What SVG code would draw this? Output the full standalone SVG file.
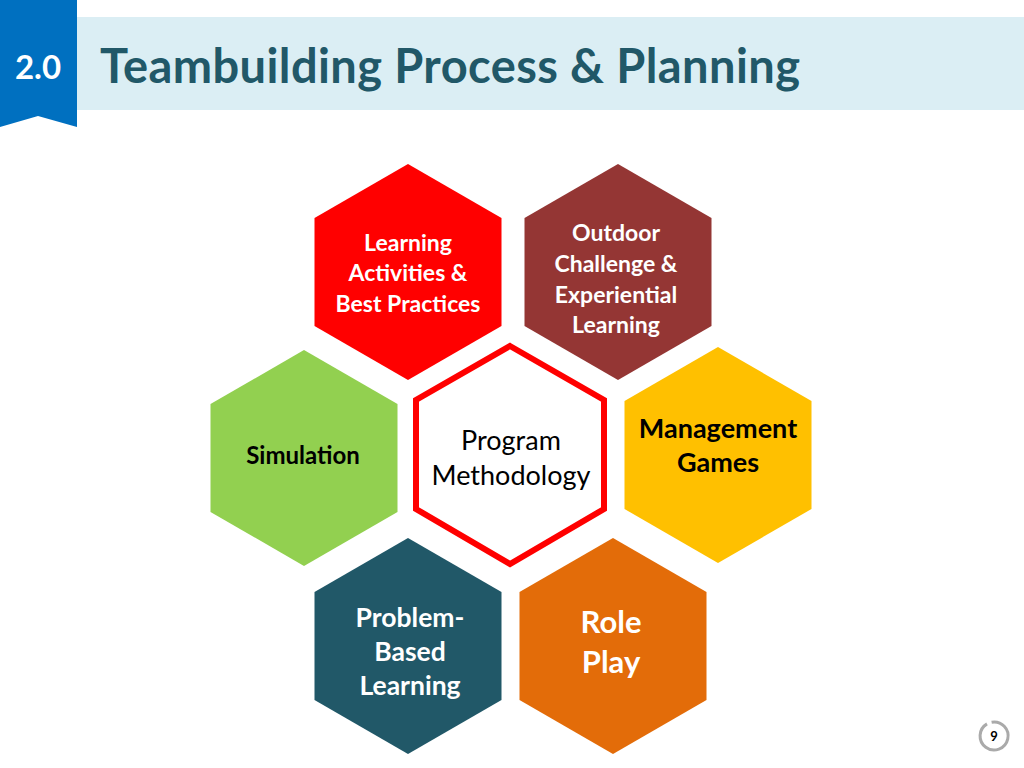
<svg xmlns="http://www.w3.org/2000/svg" width="1024" height="768" viewBox="0 0 1024 768">
<defs>
<style>
.t{font-family:Lato,"Open Sans","Liberation Sans",sans-serif;font-weight:bold;text-anchor:middle}
.w{fill:#ffffff}
.k{fill:#000000}
</style>
<polygon id="hx" points="0,-108 93.5,-54 93.5,54 0,108 -93.5,54 -93.5,-54"/>
</defs>
<rect width="1024" height="768" fill="#ffffff"/>
<g id="header">
<rect x="77" y="17" width="947" height="93" fill="#DBEEF4"/>
<polygon points="0,0 77,0 77,127 38,116 0,127" fill="#0070C0"/>
<text x="38" y="79" class="t w" style="font-size:33px">2.0</text>
<text x="100" y="83" class="t" style="font-size:47px;text-anchor:start;fill:#215868" textLength="700" lengthAdjust="spacing">Teambuilding Process &amp; Planning</text>
</g>
<g id="connectors"></g>
<g id="node-learning">
<use href="#hx" x="408" y="272" fill="#FF0000"/>
<text class="t w" style="font-size:23px"><tspan x="408" y="251">Learning</tspan><tspan x="408" y="281">Activities &amp;</tspan><tspan x="408" y="312">Best Practices</tspan></text>
</g>
<g id="node-outdoor">
<use href="#hx" x="618" y="272" fill="#943634"/>
<text class="t w" style="font-size:23px"><tspan x="616" y="241">Outdoor</tspan><tspan x="616" y="272">Challenge &amp;</tspan><tspan x="616" y="303">Experiential</tspan><tspan x="616" y="333">Learning</tspan></text>
</g>
<g id="node-simulation">
<use href="#hx" x="304" y="458" fill="#92D050"/>
<text x="303" y="464" class="t k" style="font-size:24px">Simulation</text>
</g>
<g id="node-management">
<use href="#hx" x="718" y="455" fill="#FFC000"/>
<text class="t k" style="font-size:27px"><tspan x="718" y="438">Management</tspan><tspan x="718" y="472">Games</tspan></text>
</g>
<g id="node-problem">
<use href="#hx" x="408" y="646" fill="#215868"/>
<text class="t w" style="font-size:26.5px"><tspan x="410" y="627">Problem-</tspan><tspan x="410" y="661">Based</tspan><tspan x="410" y="695">Learning</tspan></text>
</g>
<g id="node-roleplay">
<use href="#hx" x="613" y="646" fill="#E36C09"/>
<text class="t w" style="font-size:31px"><tspan x="611" y="633">Role</tspan><tspan x="611" y="673">Play</tspan></text>
</g>
<g id="node-center">
<polygon points="510,346 604,400 604,509 510,564 416,509 416,400" fill="#ffffff" stroke="#FF0000" stroke-width="6" stroke-linejoin="miter"/>
<text class="t k" style="font-size:27px;font-weight:normal"><tspan x="511" y="450">Program</tspan><tspan x="511" y="485">Methodology</tspan></text>
</g>
<g id="page-number">
<path d="M991.6,722.2 A14,14 0 1 1 987,723.9" fill="none" stroke="#AAAAAA" stroke-width="3"/>
<text x="994" y="741" class="t k" style="font-size:13px">9</text>
</g>
</svg>
